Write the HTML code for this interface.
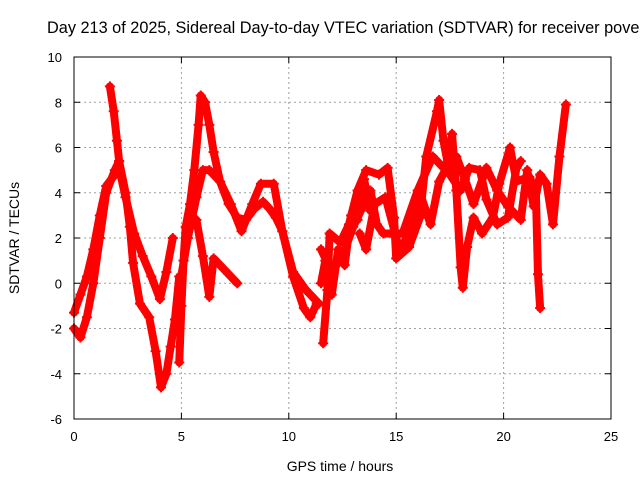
<!DOCTYPE html>
<html><head><meta charset="utf-8"><style>
body{margin:0;background:#fff}
svg{display:block;font-family:"Liberation Sans",sans-serif}
</style></head><body>
<svg id="chart" width="640" height="480" viewBox="0 0 640 480" xmlns="http://www.w3.org/2000/svg">
<text x="47" y="33" font-size="16.3" fill="#000">Day 213 of 2025, Sidereal Day-to-day VTEC variation (SDTVAR) for receiver pove</text>
<g id="grid"></g>
<g id="ticks"></g>
<g id="series"></g>
<rect x="74" y="57" width="537" height="362" fill="none" stroke="#000" stroke-width="1"/>
<text x="340" y="471" font-size="14" text-anchor="middle">GPS time / hours</text>
<text x="0" y="0" font-size="14" text-anchor="middle" transform="translate(19,238) rotate(-90)">SDTVAR / TECUs</text>
</svg>
<script>
const xTicks=[0,5,10,15,20,25];
const yTicks=[-6,-4,-2,0,2,4,6,8,10];
const trace1=[[0,-1.3],[0.3,-0.5],[0.6,0.3],[0.9,1.5],[1.2,3],[1.5,4.3],[1.9,4.8],[2.1,5.1],[2.4,3.8],[2.8,2.2],[3.2,1.2],[3.6,0.3],[4.0,-0.7],[4.3,0.5],[4.6,2]];
const trace2=[[0,-2.0],[0.3,-2.4],[0.6,-1.5],[0.9,0],[1.2,2],[1.5,4],[1.9,5],[2.1,5.4]];
const trace3=[[1.67,8.7],[1.85,7.6],[2.0,6.3],[2.1,5.4],[2.4,4],[2.6,2.5],[2.75,0.9],[3.07,-0.9],[3.5,-1.5],[3.8,-3],[4.05,-4.6],[4.3,-4],[4.5,-2.8],[4.7,-1.6],[4.9,0.3]];
const trace4=[[4.9,-3.5],[5.0,-1],[5.1,1],[5.2,2.5],[5.4,3.5],[5.6,5],[5.8,7],[5.9,8.3],[6.1,8],[6.3,7],[6.5,5.8],[6.8,4.5],[7.2,3.5],[7.6,2.9],[8.0,2.8],[8.4,3.3],[8.8,3.6],[9.1,3.3],[9.4,2.9],[9.7,2.3],[10.2,0.3],[10.7,-1.1],[11.0,-1.5],[11.3,-0.9]];
const trace5=[[4.9,-0.2],[5.3,2],[5.7,3.8],[6.0,5],[6.3,5],[6.8,4.5],[7.3,3.5],[7.8,2.3],[8.3,3.5],[8.7,4.4],[9.3,4.4],[9.7,2.3],[10.2,0.5],[10.8,-0.3],[11.4,-0.9]];
const trace6=[[5.7,2.8],[6.0,1.2],[6.3,-0.6],[6.5,1.1],[7.0,0.6],[7.6,0]];
const trace7=[[11.6,-2.65],[11.8,-0.3],[11.9,2.2],[12.4,1.8],[12.8,2.6],[13.2,4.1],[13.6,5],[14.2,4.8],[14.6,5.1],[14.9,2.9],[15.0,1.1],[15.6,1.6],[16.1,2.9],[16.4,5.6],[16.9,7.6],[17.0,8.1],[17.2,6.3],[17.5,4.8],[18.0,4.1],[18.4,5.1],[18.9,5],[19.2,3.7],[19.7,2.6],[20.2,2.9],[20.6,5.1],[20.8,5.4]];
const trace8=[[11.5,1.5],[12.0,0.5],[12.5,1.2],[13.0,2.5],[13.8,4.1],[14.1,2.6],[14.4,2.2],[15.3,2.2],[16.0,4.1],[16.7,5.6],[17.3,5],[17.6,6.6],[17.8,4.1],[18.0,0.7],[18.1,-0.2],[18.3,1.6],[18.6,2.9],[19.0,2.2],[19.5,2.9],[19.8,4.4],[20.3,6.0],[20.6,4.5],[21.2,4.7],[21.5,4.1],[21.6,0.4],[21.7,-1.1]];
const trace9=[[13.3,2.2],[13.6,1.5],[14.0,3.5],[14.5,3.8],[15.2,1.3],[15.8,3],[16.1,4],[16.6,2.6],[17.0,4.5],[17.4,5.2],[17.8,5.6],[18.2,4.6],[18.6,3.5],[19.2,5.1],[19.7,4.1],[20.2,3.4],[20.8,2.8],[21.1,5],[21.4,3.4],[21.7,4.8],[22.0,4.4],[22.3,2.6],[22.6,5.6],[22.9,7.9]];
const trace10=[[11.5,0],[11.7,1],[12.0,-0.5],[12.3,1.5],[12.6,0.8],[12.9,3],[13.2,2.8],[13.5,4.6],[13.8,3.2]];
const traces=[trace1,trace2,trace3,trace4,trace5,trace6,trace7,trace8,trace9,trace10];
const X0=74,X1=611,Y0=419,Y1=57,XMIN=0,XMAX=25,YMIN=-6,YMAX=10;
const sx=v=>X0+(v-XMIN)/(XMAX-XMIN)*(X1-X0);
const sy=v=>Y0-(v-YMIN)/(YMAX-YMIN)*(Y0-Y1);
const NS='http://www.w3.org/2000/svg';
const grid=document.getElementById('grid'),ticks=document.getElementById('ticks'),series=document.getElementById('series');
function mk(t,a,p){const e=document.createElementNS(NS,t);for(const k in a)e.setAttribute(k,a[k]);p.appendChild(e);return e;}
xTicks.forEach(v=>{const x=sx(v);
 if(v>XMIN&&v<XMAX){const g=mk('line',{x1:x,x2:x,y1:Y1,y2:Y0,stroke:'#a0a0a0','stroke-dasharray':'2,3'},grid);
 
 }
 mk('line',{x1:x,x2:x,y1:Y0,y2:Y0-6,stroke:'#000'},ticks);
 mk('line',{x1:x,x2:x,y1:Y1,y2:Y1+6,stroke:'#000'},ticks);
 const t=mk('text',{x:x,y:Y0+22,'font-size':13,'text-anchor':'middle'},ticks);t.textContent=v;
 
 });
yTicks.forEach(v=>{const y=sy(v);
 if(v>YMIN&&v<YMAX){const g=mk('line',{x1:X0,x2:X1,y1:y,y2:y,stroke:'#a0a0a0','stroke-dasharray':'2,3'},grid);
 
 }
 mk('line',{x1:X0,x2:X0+6,y1:y,y2:y,stroke:'#000'},ticks);
 mk('line',{x1:X1,x2:X1-6,y1:y,y2:y,stroke:'#000'},ticks);
 const t=mk('text',{x:X0-12,y:y+5,'font-size':13,'text-anchor':'end'},ticks);t.textContent=v;
 
 });
traces.forEach((tr,i)=>{
 const pl=mk('polyline',{points:tr.map(p=>sx(p[0])+','+sy(p[1])).join(' '),fill:'none',stroke:'#ff0000','stroke-width':8,'stroke-linejoin':'round','stroke-linecap':'round'},series);
 
 
 tr.forEach(p=>{const x=sx(p[0]),y=sy(p[1]);
  const m=mk('path',{d:`M${x-5},${y}H${x+5}M${x},${y-5}V${y+5}`,stroke:'#ff0000','stroke-width':2},series);
  
  });
});
</script>
</body></html>
